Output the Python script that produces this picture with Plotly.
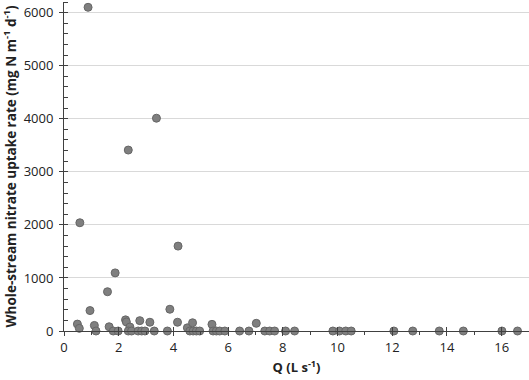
import plotly.graph_objects as go

# Discharge Q (L s-1)
q = [0.88, 0.58, 2.35, 3.38, 4.17, 1.87, 1.59, 0.95, 3.87,
     0.49, 0.56, 1.11, 1.17, 1.65, 1.80, 1.98, 2.25, 2.28, 2.41, 2.35, 2.47,
     2.77, 2.71, 2.84, 2.96, 3.14, 3.30, 3.78, 4.15, 4.51, 4.70, 4.60, 4.72,
     4.84, 4.96, 5.41, 5.45, 5.57, 5.69, 5.88, 6.42, 6.76, 7.03, 7.34, 7.52,
     7.70, 8.10, 8.43, 9.83, 10.07, 10.30, 10.50, 12.06, 12.75, 13.72, 14.60,
     16.01, 16.58]
# Whole-stream nitrate uptake rate (mg N m-1 d-1)
u = [6100, 2040, 3410, 4010, 1600, 1095, 740, 385, 410,
     130, 50, 105, 0, 80, 0, 0, 210, 170, 75, 0, 0,
     195, 0, 0, 0, 165, 0, 0, 165, 60, 155, 0, 0,
     0, 0, 125, 0, 0, 0, 0, 0, 0, 145, 0, 0,
     0, 0, 0, 0, 0, 0, 0, 0, 0, 0, 0,
     0, 0]

FONT = "Open Sans"
AX = "#404040"

fig = go.Figure()
fig.add_trace(go.Scatter(
    x=q, y=u, mode="markers",
    marker=dict(size=8, color="#7f7f7f", line=dict(color="#666666", width=1)),
    cliponaxis=False, showlegend=False))

fig.update_layout(
    width=529, height=380,
    margin=dict(l=64, r=0, t=2, b=49),
    paper_bgcolor="white", plot_bgcolor="white",
    font=dict(family=FONT, size=13, color="#222222"),
    xaxis=dict(range=[0, 17], dtick=2, tick0=0, showgrid=False, zeroline=False,
               automargin=False,
               showline=True, linecolor=AX, linewidth=1,
               ticks="outside", ticklen=4, tickcolor=AX,
               minor=dict(dtick=1, ticks="outside", ticklen=3, tickcolor=AX),
               title=dict(text="<b>Q (L s<sup>-1</sup>)</b>", standoff=8,
                          font=dict(size=13))),
    yaxis=dict(range=[0, 6200], dtick=1000, tick0=0, showgrid=True,
               automargin=False, ticklabelstandoff=3,
               gridcolor="#d9d9d9", gridwidth=1, zeroline=False,
               showline=True, linecolor=AX, linewidth=1,
               ticks="outside", ticklen=4, tickcolor=AX,
               minor=dict(dtick=200, ticks="inside", ticklen=4, tickcolor=AX,
                          showgrid=False),
               title=dict(text="<b>Whole-stream nitrate uptake rate (mg N m<sup>-1</sup> d<sup>-1</sup>)</b>",
                          standoff=6, font=dict(size=13.5))),
    xaxis2=dict(overlaying="x", anchor="y", range=[0, 17], dtick=2, tick0=0,
                automargin=False,
                showticklabels=False, showgrid=False, zeroline=False,
                showline=False, ticks="inside", ticklen=4, tickcolor=AX, side="bottom"),
    yaxis2=dict(overlaying="y", anchor="x", range=[0, 6200], dtick=1000, tick0=0,
                automargin=False,
                showticklabels=False, showgrid=False, zeroline=False,
                showline=False, ticks="inside", ticklen=4, tickcolor=AX, side="left"),
)
fig.add_trace(go.Scatter(x=[None], y=[None], xaxis="x2", yaxis="y2",
                         showlegend=False, hoverinfo="skip"))

fig.write_html("out.html", config={"displayModeBar": False},
               post_script="document.body.style.margin='0';document.body.style.overflow='hidden';")
